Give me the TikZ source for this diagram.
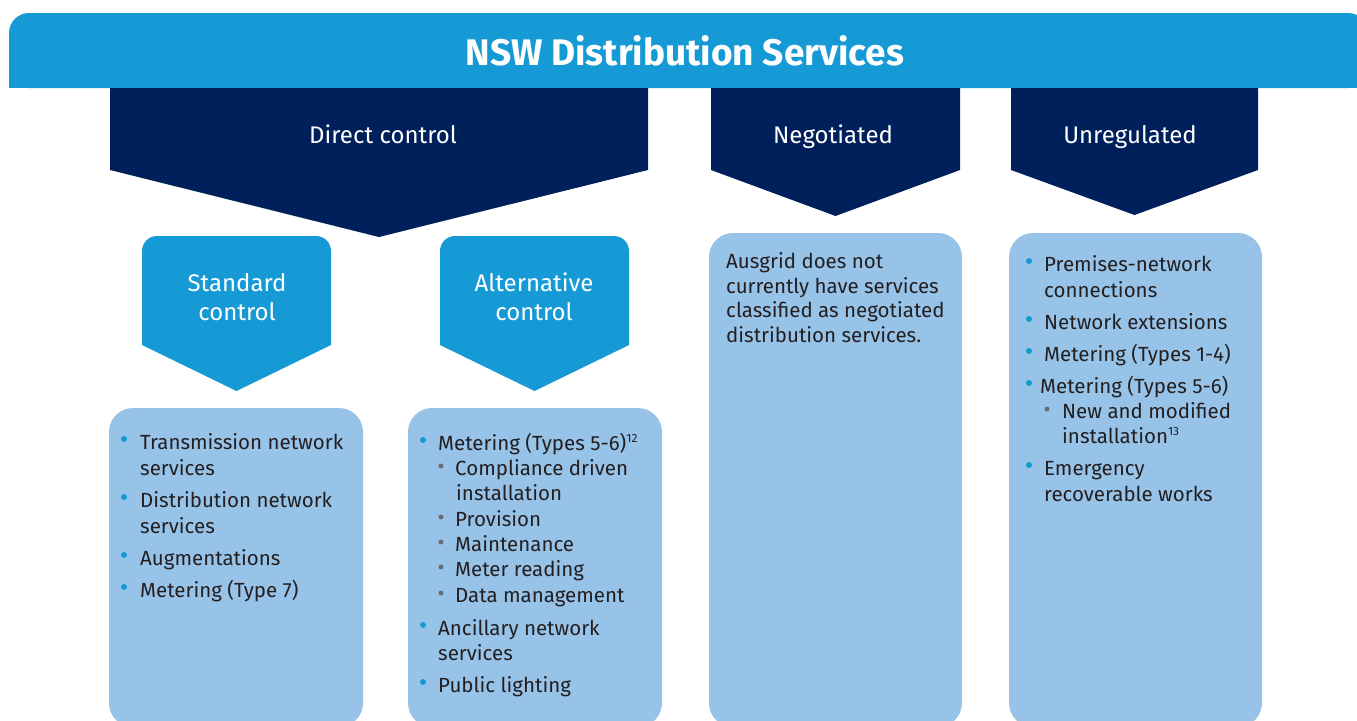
\documentclass[tikz,border=0pt]{standalone}
\usepackage{fontspec}
\setmainfont{Fira Sans}
\definecolor{banner}{HTML}{169AD6}
\definecolor{navy}{HTML}{00205B}
\definecolor{lightbox}{HTML}{98C3E8}
\definecolor{bodytext}{HTML}{231F20}
\definecolor{subdot}{HTML}{6A6A6A}
\begin{document}
\begin{tikzpicture}[x=1pt,y=-1pt,
  title/.style={font=\fontsize{37}{40}\selectfont\bfseries, text=white, anchor=base, inner sep=0},
  head/.style={font=\fontsize{24}{29}\selectfont, text=white, anchor=base, inner sep=0},
  item/.style={font=\fontsize{20.5}{26}\selectfont, text=bodytext, anchor=base west, inner sep=0},
  dot/.style={fill=banner, circle, inner sep=0, minimum size=6pt},
  subdotstyle/.style={fill=subdot, circle, inner sep=0, minimum size=4.8pt}]
\useasboundingbox (0,0) rectangle (1357,720);
\clip (0,0) rectangle (1357,720);

% title banner: rounded on top, square at the bottom
\fill[banner, rounded corners=20] (9,13) rectangle (1368,88);
\fill[banner] (9,50) rectangle (1368,88);
\node[title] (ttl) at (685,65) {NSW Distribution Services};

% dark category arrows hanging from the banner
\fill[navy] (110,88) -- (648,88) -- (648,170) -- (379,237) -- (110,170) -- cycle;
\node[head] (direct) at (383,143) {Direct control};
\fill[navy] (711,88) -- (960,88) -- (960,170) -- (835.5,216) -- (711,170) -- cycle;
\node[head] (nego) at (833,143) {Negotiated};
\fill[navy] (1011,88) -- (1258,88) -- (1258,170) -- (1134.5,215) -- (1011,170) -- cycle;
\node[head] (unreg) at (1130,143) {Unregulated};

% control sub-category arrows
\fill[banner] (142,345) -- (142,251) arc[start angle=180,end angle=270,radius=15]
  -- (316,236) arc[start angle=270,end angle=360,radius=15]
  -- (331,345) -- (236.5,391) -- cycle;
\node[head] (std1) at (237,291) {Standard};
\node[head] (std2) at (237,320) {control};
\fill[banner] (440,345) -- (440,251) arc[start angle=180,end angle=270,radius=15]
  -- (614,236) arc[start angle=270,end angle=360,radius=15]
  -- (629,345) -- (534.5,391) -- cycle;
\node[head] (alt1) at (534,291) {Alternative};
\node[head] (alt2) at (534,320) {control};

% service list panels
\fill[lightbox, rounded corners=24] (109,408) rectangle (363,727);
\fill[lightbox, rounded corners=24] (408,408) rectangle (662,727);
\fill[lightbox, rounded corners=24] (709,233) rectangle (962,727);
\fill[lightbox, rounded corners=24] (1009,233) rectangle (1262,727);

% standard control services
\node[dot] (sd1) at (124,439) {};
\node[item] (s1a) at (140,449) {Transmission network};
\node[item] (s1b) at (140,475) {services};
\node[dot] (sd2) at (124,497) {};
\node[item] (s2a) at (140,507) {Distribution network};
\node[item] (s2b) at (140,533) {services};
\node[dot] (sd3) at (124,555) {};
\node[item] (s3) at (140,565) {Augmentations};
\node[dot] (sd4) at (124,587) {};
\node[item] (s4) at (140,597) {Metering (Type 7)};

% alternative control services
\node[dot] (ad1) at (423,440) {};
\node[item] (a1) at (438,450) {Metering (Types 5-6)\textsuperscript{\fontsize{12}{12}\selectfont 12}};
\node[subdotstyle] (ab1) at (441,466) {};
\node[item] (a11a) at (455,475) {Compliance driven};
\node[item] (a11b) at (456,500) {installation};
\node[subdotstyle] (ab2) at (441,517) {};
\node[item] (a12) at (455,526) {Provision};
\node[subdotstyle] (ab3) at (441,542) {};
\node[item] (a13) at (455,551) {Maintenance};
\node[subdotstyle] (ab4) at (441,567) {};
\node[item] (a14) at (455,576) {Meter reading};
\node[subdotstyle] (ab5) at (441,593) {};
\node[item] (a15) at (455,602) {Data management};
\node[dot] (ad2) at (423,625) {};
\node[item] (a2a) at (438,635) {Ancillary network};
\node[item] (a2b) at (438,660) {services};
\node[dot] (ad3) at (423,682) {};
\node[item] (a3) at (438,692) {Public lighting};

% negotiated services note
\node[item] (n1) at (726,268) {Ausgrid does not};
\node[item] (n2) at (726,293) {currently have services};
\node[item] (n3) at (726,317) {classified as negotiated};
\node[item] (n4) at (726,342) {distribution services.};

% unregulated services
\node[dot] (ud1) at (1029,261) {};
\node[item] (u1a) at (1044,271) {Premises-network};
\node[item] (u1b) at (1044,297) {connections};
\node[dot] (ud2) at (1029,319) {};
\node[item] (u2) at (1044,329) {Network extensions};
\node[dot] (ud3) at (1029,351) {};
\node[item] (u3) at (1044,361) {Metering (Types 1-4)};
\node[dot] (ud4) at (1029,383) {};
\node[item] (u4) at (1040,393) {Metering (Types 5-6)};
\node[subdotstyle] (ub1) at (1047,409) {};
\node[item] (u41a) at (1062,418) {New and modified};
\node[item] (u41b) at (1062,443) {installation\textsuperscript{\fontsize{12}{12}\selectfont 13}};
\node[dot] (ud5) at (1029,465) {};
\node[item] (u5a) at (1044,475) {Emergency};
\node[item] (u5b) at (1044,501) {recoverable works};
\end{tikzpicture}
\end{document}
